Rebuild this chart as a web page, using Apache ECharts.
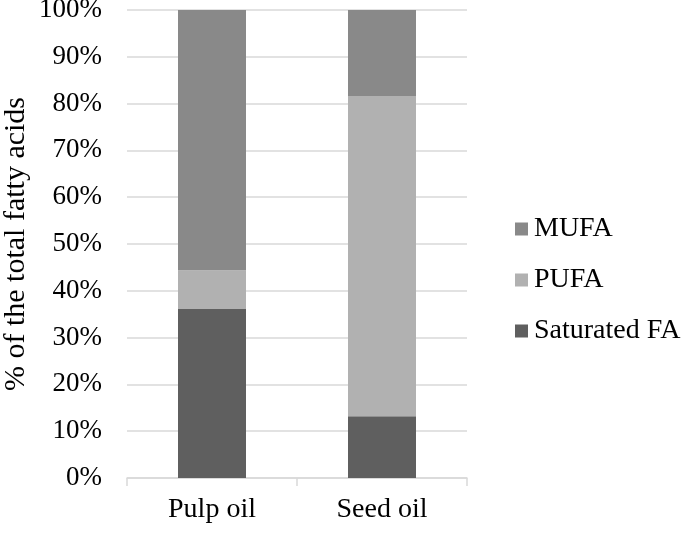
<!DOCTYPE html>
<html>
<head>
<meta charset="utf-8">
<script src="https://cdn.jsdelivr.net/npm/echarts@6/dist/echarts.min.js"></script>
<style>
  html, body { margin: 0; padding: 0; background: #fff; }
  #chart { width: 685px; height: 553px; }
</style>
</head>
<body>
<div id="chart"></div>
<script>
  // data (% of total fatty acids)
  const categories = ['Pulp oil', 'Seed oil'];
  const saturated = [36.1, 13.2];
  const pufa = [8.3, 68.4];
  const mufa = [55.6, 18.4];

  const font = '"Liberation Serif", "Times New Roman", serif';
  const chart = echarts.init(document.getElementById('chart'));

  const option = {
    backgroundColor: '#fff',
    animation: false,
    textStyle: { fontFamily: font, color: '#000' },
    grid: { left: 127, right: 218, top: 10, bottom: 75, outerBoundsMode: 'none', containLabel: false },
    legend: {
      orient: 'vertical',
      left: 510,
      top: 210,
      itemWidth: 13,
      itemHeight: 13,
      itemGap: 23,
      icon: 'rect',
      data: ['MUFA', 'PUFA', 'Saturated FA'],
      textStyle: { fontFamily: font, fontSize: 28, color: '#000', padding: [0, 0, 0, 1] }
    },
    xAxis: {
      type: 'category',
      data: categories,
      axisLine: { lineStyle: { color: '#d9d9d9', width: 1.5 } },
      axisTick: { show: true, length: 8, lineStyle: { color: '#d9d9d9', width: 1.5 } },
      axisLabel: { fontFamily: font, fontSize: 28, color: '#000', margin: 18 }
    },
    yAxis: {
      type: 'value',
      min: 0,
      max: 100,
      interval: 10,
      name: '% of the total fatty acids',
      nameLocation: 'middle',
      nameGap: 96,
      nameTextStyle: { fontFamily: font, fontSize: 30, color: '#000' },
      axisLine: { show: false },
      axisTick: { show: false },
      axisLabel: { formatter: '{value}%', fontFamily: font, fontSize: 27, color: '#000', margin: 25 },
      splitLine: { lineStyle: { color: '#d9d9d9', width: 1.5 } }
    },
    series: [
      { name: 'Saturated FA', type: 'bar', stack: 'fa', data: saturated, barWidth: '40%', itemStyle: { color: '#5f5f5f' } },
      { name: 'PUFA', type: 'bar', stack: 'fa', data: pufa, itemStyle: { color: '#b1b1b1' } },
      { name: 'MUFA', type: 'bar', stack: 'fa', data: mufa, itemStyle: { color: '#898989' } }
    ]
  };

  chart.setOption(option);
</script>
</body>
</html>
